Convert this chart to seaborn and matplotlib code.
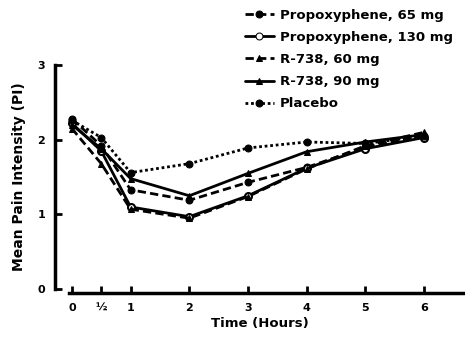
import pandas as pd
import matplotlib.pyplot as plt
import seaborn as sns

# values
hours = [0, 0.5, 1, 2, 3, 4, 5, 6]
prop_65 = [2.28, 1.92, 1.33, 1.19, 1.43, 1.63, 1.90, 2.05]
prop_130 = [2.22, 1.85, 1.10, 0.97, 1.25, 1.62, 1.88, 2.03]
r738_60 = [2.15, 1.68, 1.07, 0.95, 1.24, 1.61, 1.92, 2.10]
r738_90 = [2.20, 1.88, 1.48, 1.25, 1.55, 1.84, 1.97, 2.07]
placebo = [2.26, 2.03, 1.56, 1.68, 1.89, 1.97, 1.95, 2.05]

labels = ['Propoxyphene, 65 mg', 'Propoxyphene, 130 mg', 'R-738, 60 mg',
          'R-738, 90 mg', 'Placebo']
tick_labels = ['0', '½', '1', '2', '3', '4', '5', '6']

series = [prop_65, prop_130, r738_60, r738_90, placebo]
df = pd.concat([pd.DataFrame({'Time': hours, 'PI': s, 'Drug': lab})
                for lab, s in zip(labels, series)], ignore_index=True)

sns.set_style('ticks')
plt.rcParams['font.family'] = ['DejaVu Sans']
plt.rcParams['font.weight'] = 'bold'
plt.rcParams['text.color'] = 'black'
plt.rcParams['axes.labelcolor'] = 'black'
plt.rcParams['xtick.color'] = 'black'
plt.rcParams['ytick.color'] = 'black'
plt.rcParams['axes.edgecolor'] = 'black'

fig = plt.figure(figsize=(4.65, 3.37), dpi=100)
ax = fig.add_axes([0.118, 0.142, 0.88, 0.665])

dashes = {labels[0]: (3, 1.5), labels[1]: '', labels[2]: (3, 1.5),
          labels[3]: '', labels[4]: (1, 1)}
markers = {labels[0]: 'o', labels[1]: 'o', labels[2]: '^',
           labels[3]: '^', labels[4]: 'o'}
sns.lineplot(data=df, x='Time', y='PI', hue='Drug', style='Drug',
             hue_order=labels, style_order=labels,
             palette=['black'] * 5, dashes=dashes, markers=markers,
             markersize=5, linewidth=2, markeredgecolor='black', ax=ax)

# open circle for Propoxyphene 130 mg
ax.lines[1].set_markerfacecolor('white')
ax.lines[1].set_markeredgewidth(1.5)

ax.set_xlim(-0.29, 6.68)
ax.set_ylim(0, 3)
ax.set_xticks(hours)
ax.set_xticklabels(tick_labels)
ax.set_yticks([0, 1, 2, 3])
ax.tick_params(direction='in', length=5, width=2, labelsize=8, pad=7)
ax.tick_params(axis='y', pad=7)
for s in ['top', 'right']:
    ax.spines[s].set_visible(False)
ax.spines['left'].set_linewidth(2.5)
ax.spines['bottom'].set_linewidth(2.5)
ax.spines['bottom'].set_position(('outward', 3))
ax.spines['bottom'].set_bounds(-0.05, 6.68)

ax.set_xlabel('Time (Hours)', fontsize=9.5, fontweight='bold', labelpad=3)
ax.set_ylabel('Mean Pain Intensity (PI)', fontsize=10, fontweight='bold', labelpad=8)

handles, _ = ax.get_legend_handles_labels()
handles[1].set_markerfacecolor('white')
ax.legend(handles, labels, loc='upper right', bbox_to_anchor=(1.0, 1.01),
          bbox_transform=fig.transFigure, frameon=False,
          handlelength=2.2, handletextpad=0.5, labelspacing=0.7,
          prop={'weight': 'bold', 'size': 9.5})

plt.savefig('out.png', dpi=100)
plt.close()
